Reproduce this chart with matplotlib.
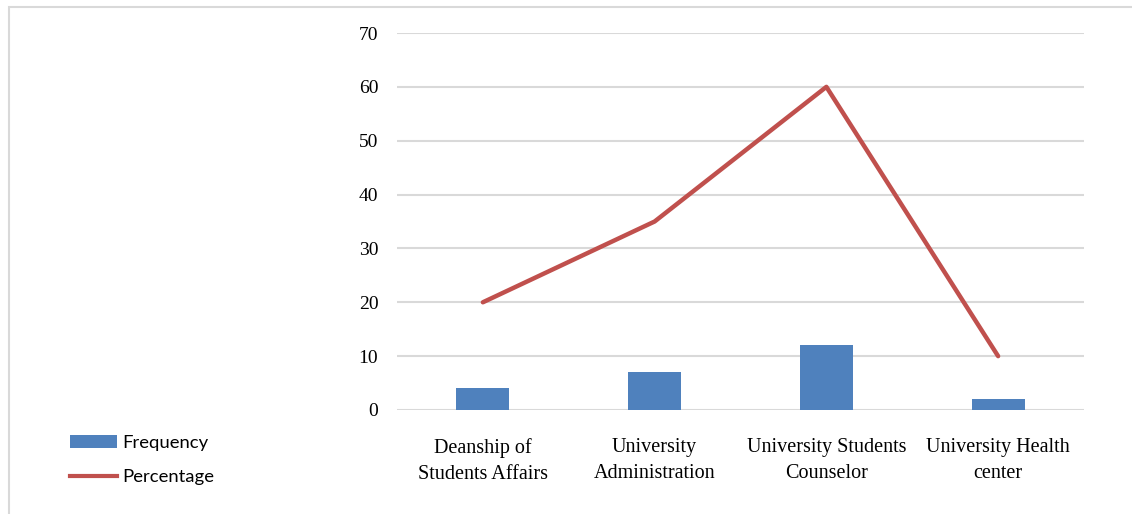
import matplotlib
matplotlib.use("Agg")
import matplotlib.pyplot as plt
from matplotlib.patches import Rectangle
from matplotlib.lines import Line2D
import numpy as np

categories = ["Deanship of\nStudents Affairs", "University\nAdministration",
              "University Students\nCounselor", "University Health\ncenter"]
frequency = [4, 7, 12, 2]
percentage = [20, 35, 60, 10]
yticks = [0, 10, 20, 30, 40, 50, 60, 70]

W, H = 1132, 514
fig = plt.figure(figsize=(W/100, H/100), dpi=100)
fig.patch.set_facecolor("white")

# outer frame (cropped on right/bottom)
fig.patches.append(Rectangle((9/W, -0.1), 1.2, 1 - 7/H + 0.1, transform=fig.transFigure,
                             fill=False, edgecolor="#D9D9D9", linewidth=1.5))

ax = fig.add_axes([397/W, 1 - 410/H, (1084-397)/W, (410-33)/H])
x = np.arange(len(categories))
ax.bar(x, frequency, width=0.31, color="#4F81BD", zorder=3)
ax.plot(x, percentage, color="#C0504D", linewidth=3.2, zorder=4, solid_capstyle="round")

ax.set_xlim(-0.5, len(categories) - 0.5)
ax.set_ylim(0, 70)
ax.set_yticks(yticks)
ax.set_xticks(x)
ax.set_xticklabels(categories, fontfamily="Liberation Serif", fontsize=14.5, linespacing=1.55)
ax.set_yticklabels([str(v) for v in yticks], fontfamily="Liberation Serif", fontsize=14)
ax.tick_params(axis="both", length=0)
ax.tick_params(axis="y", pad=13.5)
ax.tick_params(axis="x", pad=20)
ax.grid(axis="y", color="#D9D9D9", linewidth=1.5, zorder=0)
for s in ax.spines.values():
    s.set_visible(False)

handles = [Rectangle((0, 0), 1, 1, facecolor="#4F81BD", edgecolor="none"),
           Line2D([0], [0], color="#C0504D", linewidth=3)]
leg = fig.legend(handles, ["Frequency", "Percentage"], loc="upper left",
                 bbox_to_anchor=(53/W, 1 - 418/H), frameon=False,
                 prop={"family": "Lato", "size": 13.3}, handlelength=2.55,
                 handleheight=0.7, labelspacing=1.0, handletextpad=0.3)

fig.savefig("out.png", dpi=100, facecolor="white")
